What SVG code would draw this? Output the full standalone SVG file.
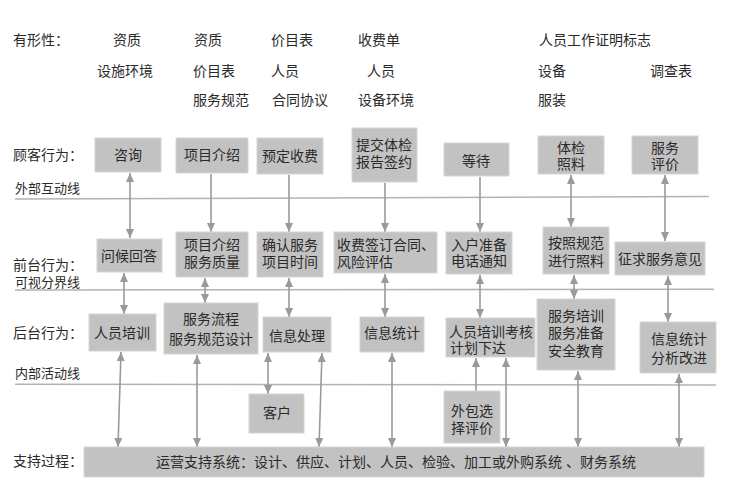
<svg xmlns="http://www.w3.org/2000/svg" width="745" height="494" viewBox="0 0 745 494">
<style>
text{font-family:"Liberation Sans","Noto Sans CJK SC",sans-serif;fill:#2a2a2a;font-size:14px}
.c{text-anchor:middle}
.sm{font-size:13px}
.box{fill:#c2c2c2;stroke:#d6d6d6;stroke-width:1}
.sep{stroke:#b3b3b3;stroke-width:1.5;fill:none}
.ar{stroke:#9a9a9a;stroke-width:1.6;fill:none}
</style>
<defs>
<marker id="ah" markerUnits="userSpaceOnUse" markerWidth="10" markerHeight="10" refX="9" refY="4" orient="auto-start-reverse">
<path d="M0,0 L9,4 L0,8 z" fill="#9a9a9a"/>
</marker>
</defs>
<rect width="745" height="494" fill="#ffffff"/>

<g id="tangible">
<text x="13" y="45">有形性：</text>
<text class="c" x="127" y="45">资质</text>
<text class="c" x="208" y="45">资质</text>
<text class="c" x="292" y="45">价目表</text>
<text class="c" x="379" y="45">收费单</text>
<text class="c" x="595" y="45">人员工作证明标志</text>
<text class="c" x="125" y="76">设施环境</text>
<text class="c" x="214" y="76">价目表</text>
<text class="c" x="285" y="76">人员</text>
<text class="c" x="381" y="76">人员</text>
<text class="c" x="552" y="76">设备</text>
<text class="c" x="671" y="76">调查表</text>
<text class="c" x="221" y="105">服务规范</text>
<text class="c" x="300" y="105">合同协议</text>
<text class="c" x="386" y="105">设备环境</text>
<text class="c" x="552" y="105">服装</text>
</g>

<g id="lane-labels">
<text x="13" y="160">顾客行为：</text>
<text class="sm" x="15" y="193">外部互动线</text>
<text x="13" y="270">前台行为：</text>
<text class="sm" x="15" y="287">可视分界线</text>
<text x="13" y="338">后台行为：</text>
<text class="sm" x="15" y="378">内部活动线</text>
<text x="13" y="466">支持过程：</text>
</g>

<g id="separators">
<line class="sep" x1="15" y1="199" x2="709" y2="196.5"/>
<line class="sep" x1="15" y1="290" x2="714" y2="289.3"/>
<line class="sep" x1="15" y1="384.3" x2="716" y2="385"/>
</g>

<g id="connectors">
<line class="ar" x1="130" y1="173" x2="130" y2="238" marker-start="url(#ah)" marker-end="url(#ah)"/>
<line class="ar" x1="211" y1="174" x2="211" y2="232" marker-end="url(#ah)"/>
<line class="ar" x1="289" y1="175" x2="289" y2="232" marker-end="url(#ah)"/>
<line class="ar" x1="385" y1="183" x2="385" y2="232" marker-end="url(#ah)"/>
<line class="ar" x1="480" y1="177" x2="480" y2="232" marker-end="url(#ah)"/>
<line class="ar" x1="571" y1="175" x2="571" y2="227" marker-start="url(#ah)" marker-end="url(#ah)"/>
<line class="ar" x1="665" y1="175" x2="665" y2="241" marker-start="url(#ah)" marker-end="url(#ah)"/>

<line class="ar" x1="124" y1="273" x2="124" y2="314" marker-start="url(#ah)" marker-end="url(#ah)"/>
<line class="ar" x1="205" y1="278" x2="205" y2="303" marker-start="url(#ah)" marker-end="url(#ah)"/>
<line class="ar" x1="289" y1="278" x2="289" y2="317" marker-start="url(#ah)" marker-end="url(#ah)"/>
<line class="ar" x1="385" y1="274" x2="385" y2="317" marker-start="url(#ah)" marker-end="url(#ah)"/>
<line class="ar" x1="480" y1="275" x2="480" y2="318" marker-start="url(#ah)" marker-end="url(#ah)"/>
<line class="ar" x1="574" y1="275" x2="574" y2="299" marker-start="url(#ah)" marker-end="url(#ah)"/>
<line class="ar" x1="668" y1="276" x2="668" y2="322" marker-start="url(#ah)" marker-end="url(#ah)"/>

<line class="ar" x1="121" y1="352" x2="118" y2="447" marker-start="url(#ah)" marker-end="url(#ah)"/>
<line class="ar" x1="197" y1="355" x2="197" y2="447" marker-start="url(#ah)" marker-end="url(#ah)"/>
<line class="ar" x1="268" y1="353" x2="268" y2="394" marker-start="url(#ah)" marker-end="url(#ah)"/>
<line class="ar" x1="322" y1="353" x2="319" y2="447" marker-start="url(#ah)" marker-end="url(#ah)"/>
<line class="ar" x1="392" y1="353" x2="392" y2="447" marker-start="url(#ah)" marker-end="url(#ah)"/>
<line class="ar" x1="476" y1="391" x2="476" y2="358" marker-end="url(#ah)"/>
<line class="ar" x1="506" y1="358" x2="506" y2="447" marker-start="url(#ah)" marker-end="url(#ah)"/>
<line class="ar" x1="578" y1="371" x2="578" y2="447" marker-start="url(#ah)" marker-end="url(#ah)"/>
<line class="ar" x1="679" y1="374" x2="679" y2="447" marker-start="url(#ah)" marker-end="url(#ah)"/>
</g>

<g id="n-zixun"><rect class="box" x="95" y="138" width="66" height="34"/><text class="c" x="128" y="160">咨询</text></g>
<g id="n-xiangmu"><rect class="box" x="176" y="138" width="72" height="35"/><text class="c" x="212" y="160">项目介绍</text></g>
<g id="n-yuding"><rect class="box" x="257" y="138" width="66" height="36"/><text class="c" x="290" y="161">预定收费</text></g>
<g id="n-tijiao"><rect class="box" x="352" y="128" width="65" height="54"/><text class="c" x="384" y="150">提交体检</text><text class="c" x="384" y="167">报告签约</text></g>
<g id="n-dengdai"><rect class="box" x="444" y="143" width="65" height="33"/><text class="c" x="476" y="166">等待</text></g>
<g id="n-tijian"><rect class="box" x="538" y="136" width="66" height="38"/><text class="c" x="571" y="153">体检</text><text class="c" x="571" y="169">照料</text></g>
<g id="n-pingjia"><rect class="box" x="632" y="136" width="66" height="38"/><text class="c" x="665" y="153">服务</text><text class="c" x="665" y="169">评价</text></g>

<g id="n-wenhou"><rect class="box" x="97" y="239" width="65" height="33"/><text class="c" x="129" y="261">问候回答</text></g>
<g id="n-jieshao"><rect class="box" x="176" y="232" width="72" height="45"/><text class="c" x="212" y="250">项目介绍</text><text class="c" x="212" y="267">服务质量</text></g>
<g id="n-queren"><rect class="box" x="257" y="232" width="66" height="45"/><text class="c" x="290" y="250">确认服务</text><text class="c" x="290" y="267">项目时间</text></g>
<g id="n-shoufei"><rect class="box" x="334" y="232" width="103" height="41"/><text x="337" y="250">收费签订合同、</text><text x="337" y="267">风险评估</text></g>
<g id="n-ruhu"><rect class="box" x="446" y="232" width="66" height="42"/><text class="c" x="479" y="250">入户准备</text><text class="c" x="479" y="266">电话通知</text></g>
<g id="n-anzhao"><rect class="box" x="543" y="227" width="66" height="47"/><text class="c" x="576" y="248">按照规范</text><text class="c" x="576" y="266">进行照料</text></g>
<g id="n-zhengqiu"><rect class="box" x="615" y="242" width="90" height="33"/><text class="c" x="660" y="264">征求服务意见</text></g>

<g id="n-peixun"><rect class="box" x="89" y="314" width="67" height="37"/><text class="c" x="122" y="338">人员培训</text></g>
<g id="n-liucheng"><rect class="box" x="164" y="303" width="94" height="51"/><text class="c" x="211" y="324">服务流程</text><text class="c" x="211" y="344">服务规范设计</text></g>
<g id="n-xinxichuli"><rect class="box" x="263" y="317" width="68" height="35"/><text class="c" x="297" y="341">信息处理</text></g>
<g id="n-xinxitongji"><rect class="box" x="360" y="317" width="64" height="35"/><text class="c" x="392" y="338">信息统计</text></g>
<g id="n-kaohe"><rect class="box" x="446" y="318" width="89" height="39"/><text x="449" y="337">人员培训考核</text><text x="450" y="353">计划下达</text></g>
<g id="n-fuwupeixun"><rect class="box" x="537" y="299" width="78" height="71"/><text class="c" x="576" y="321">服务培训</text><text class="c" x="576" y="338">服务准备</text><text class="c" x="576" y="356">安全教育</text></g>
<g id="n-fenxi"><rect class="box" x="640" y="322" width="76" height="51"/><text class="c" x="679" y="344">信息统计</text><text class="c" x="679" y="363">分析改进</text></g>

<g id="n-kehu"><rect class="box" x="249" y="394" width="55" height="39"/><text class="c" x="277" y="418">客户</text></g>
<g id="n-waibao"><rect class="box" x="444" y="391" width="56" height="52"/><text class="c" x="472" y="416">外包选</text><text class="c" x="472" y="433">择评价</text></g>

<g id="n-yunying"><rect class="box" x="84" y="447" width="620" height="30"/><text class="c" x="396" y="467">运营支持系统：设计、供应、计划、人员、检验、加工或外购系统 、财务系统</text></g>
</svg>
